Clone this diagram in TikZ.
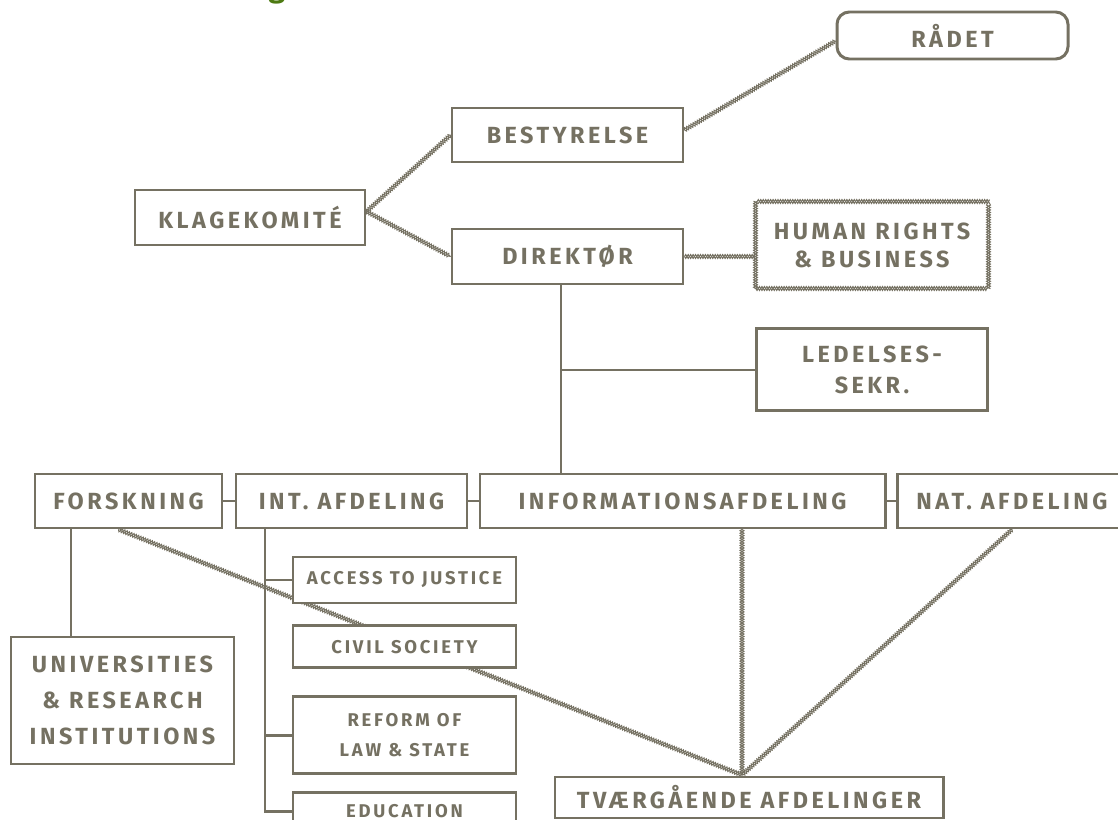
\documentclass[tikz,border=0pt]{standalone}
\usepackage{fontspec}
\newfontfamily\orgfont{Fira Sans}[LetterSpace=15]
\newfontfamily\headfont{Fira Sans}
\usetikzlibrary{positioning,decorations.pathmorphing,backgrounds}
\definecolor{ink}{RGB}{117,113,98}
\definecolor{leaf}{RGB}{77,122,18}

\tikzset{
  unit/.style={draw=ink,line width=1.7pt,fill=white,text=ink,inner sep=0pt,align=center,
    font=\orgfont\bfseries\fontsize{13.3}{18}\selectfont},
  subunit/.style={unit,font=\orgfont\bfseries\fontsize{10.5}{17}\selectfont},
  link/.style={draw=ink,line width=1.6pt},
  braid/.style={draw=none,
    postaction={draw=ink,line width=0.6pt,decorate,decoration={zigzag,amplitude=1.1pt,segment length=2.8pt}},
    postaction={draw=ink,line width=0.6pt,decorate,decoration={zigzag,mirror,amplitude=1.1pt,segment length=2.8pt}}},
}

\begin{document}
\begin{tikzpicture}
  \useasboundingbox (0,0) rectangle (22.36,-16.4);
  \clip (0,0) rectangle (22.36,-16.4);
  % title, mostly above the page
  \node[anchor=base west,inner sep=0pt,text=leaf,font=\headfont\bfseries\fontsize{17}{20}\selectfont] (title) at (0.82,0.04) {Administration og};

  % top of the organisation
  \node[unit,rounded corners=7pt,minimum width=4.62cm,minimum height=0.94cm] (raadet) at (19.05,-0.71) {RÅDET};
  \node[unit,minimum width=4.62cm,minimum height=1.08cm] (bestyrelse) at (11.35,-2.7) {BESTYRELSE};
  \node[unit,minimum width=4.6cm,minimum height=1.1cm] (klage) at (5,-4.35) {KLAGEKOMITÉ};
  \node[unit,minimum width=4.62cm,minimum height=1.1cm] (direktoer) at (11.35,-5.13) {DIREKTØR};
  \node[unit,draw=none,minimum width=4.6cm,minimum height=1.68cm,font=\orgfont\bfseries\fontsize{13.3}{16}\selectfont] (human) at (17.44,-4.9) {HUMAN RIGHTS\\\& BUSINESS};
  \path[braid] (human.south west) rectangle (human.north east);
  \node[unit,minimum width=4.62cm,minimum height=1.64cm] (ledelses) [below=0.78cm of human] {LEDELSES-\\SEKR.};

  % departments
  \node[unit,minimum width=3.74cm,minimum height=1.08cm] (forskning) at (2.57,-10.02) {FORSKNING};
  \node[unit,minimum width=4.62cm,minimum height=1.08cm] (intafd) at (7.03,-10.02) {INT. AFDELING};
  \node[unit,minimum width=8.1cm,minimum height=1.08cm] (infoafd) at (13.65,-10.02) {INFORMATIONSAFDELING};
  \node[unit,minimum width=4.6cm,minimum height=1.08cm] (natafd) at (20.24,-10.02) {NAT. AFDELING};
  \node[unit,minimum width=4.46cm,minimum height=2.54cm,font=\orgfont\bfseries\fontsize{13.3}{20.5}\selectfont] (univ) at (2.45,-14.01) {UNIVERSITIES\\\& RESEARCH\\INSTITUTIONS};
  \node[unit,minimum width=7.76cm,minimum height=0.82cm] (tvaer) at (14.98,-15.95) {TVÆRGÅENDE AFDELINGER};

  % programmes
  \node[subunit,minimum width=4.46cm,minimum height=0.92cm] (access) at (8.09,-11.6) {ACCESS TO JUSTICE};
  \node[subunit,minimum width=4.46cm,minimum height=0.84cm] (civil) [below=0.4cm of access] {CIVIL SOCIETY};
  \node[subunit,minimum width=4.46cm,minimum height=1.54cm] (reform) [below=0.52cm of civil] {REFORM OF\\LAW \& STATE};
  \node[subunit,minimum width=4.46cm,minimum height=0.74cm] (education) [below=0.32cm of reform] {EDUCATION};

  \coordinate (trunk) at (11.22,-5.68);
  \coordinate (fkfoot) at (1.42,-10.58);
  \coordinate (intfoot) at (5.3,-10.58);
  \coordinate (meet) at (14.84,-15.5);

  \begin{scope}[on background layer]
    \path[link] (trunk) -- (trunk |- infoafd.north);
    \path[link] (ledelses.west) -- (ledelses.west -| trunk);
    \path[link] (forskning) -- (intafd);
    \path[link] (intafd) -- (infoafd);
    \path[link] (infoafd) -- (natafd);
    \path[link] (fkfoot) -- (fkfoot |- univ.north);
    \path[link] (intfoot) |- (education.west);
    \path[link] (intfoot |- access.west) -- (access.west);
    \path[link] (intfoot |- reform.west) -- (reform.west);

    \path[braid] ([yshift=0.12cm]klage.east) -- (bestyrelse.west);
    \path[braid] ([yshift=0.12cm]klage.east) -- (direktoer.west);
    \path[braid] ([yshift=0.1cm]bestyrelse.east) -- ([yshift=-0.11cm]raadet.west);
    \path[braid] (direktoer.east) -- (direktoer.east -| human.west);
    \path[braid] ([xshift=-0.2cm]forskning.south) -- (meet);
    \path[braid] (meet |- infoafd.south) -- (meet);
    \path[braid] (natafd.south) -- (meet);
  \end{scope}
\end{tikzpicture}
\end{document}
